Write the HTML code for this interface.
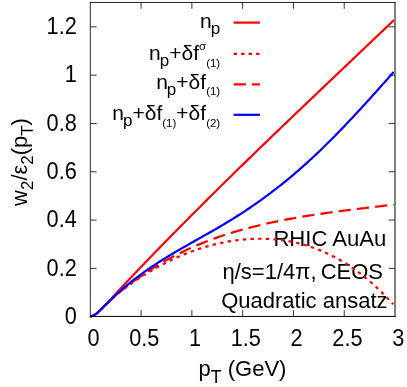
<!DOCTYPE html>
<html><head><meta charset="utf-8"><style>
html,body{margin:0;padding:0;background:#fff;}
svg{display:block;will-change:transform;opacity:0.999;}
text{font-family:"Liberation Sans",sans-serif;fill:#000;}
</style></head><body>
<svg width="407" height="387" viewBox="0 0 407 387">

<path d="M141.08,316.45 v-6.3 M141.08,2.45 v6.3 M191.87,316.45 v-6.3 M191.87,2.45 v6.3 M242.65,316.45 v-6.3 M242.65,2.45 v6.3 M293.43,316.45 v-6.3 M293.43,2.45 v6.3 M344.22,316.45 v-6.3 M344.22,2.45 v6.3 M90.3,268.39 h6.3 M395.0,268.39 h-6.3 M90.3,220.08 h6.3 M395.0,220.08 h-6.3 M90.3,171.78 h6.3 M395.0,171.78 h-6.3 M90.3,123.47 h6.3 M395.0,123.47 h-6.3 M90.3,75.16 h6.3 M395.0,75.16 h-6.3 M90.3,26.85 h6.3 M395.0,26.85 h-6.3" stroke="#333" stroke-width="1" fill="none"/>
<text x="386.4" y="246.4" font-size="22.1" text-anchor="end">RHIC AuAu</text>
<text x="222.5" y="279" font-size="22" text-anchor="start">η/s=1/4π,</text>
<text x="383" y="279" font-size="22" text-anchor="end">CEOS</text>
<text x="387.5" y="308" font-size="22" text-anchor="end">Quadratic ansatz</text>
<g fill="none" stroke-width="2.2" stroke-linejoin="round">
<path d="M90.30,316.45 L91.83,316.07 L93.35,315.48 L94.88,314.62 L96.40,313.52 L97.93,312.29 L99.45,310.91 L100.98,309.42 L102.50,307.86 L104.03,306.26 L105.56,304.66 L107.08,303.09 L108.61,301.50 L110.13,299.87 L111.66,298.22 L113.18,296.55 L114.71,294.89 L116.23,293.23 L117.76,291.59 L119.29,289.95 L120.81,288.31 L122.34,286.66 L123.86,285.03 L125.39,283.39 L126.91,281.77 L128.44,280.15 L129.96,278.54 L131.49,276.94 L133.02,275.34 L134.54,273.73 L136.07,272.13 L137.59,270.54 L139.12,268.94 L140.64,267.35 L142.17,265.75 L143.69,264.16 L145.22,262.58 L146.75,260.99 L148.27,259.41 L149.80,257.83 L151.32,256.25 L152.85,254.67 L154.37,253.09 L155.90,251.52 L157.42,249.95 L158.95,248.38 L160.47,246.81 L162.00,245.25 L163.53,243.68 L165.05,242.12 L166.58,240.56 L168.10,239.00 L169.63,237.44 L171.15,235.89 L172.68,234.34 L174.20,232.79 L175.73,231.24 L177.26,229.69 L178.78,228.14 L180.31,226.60 L181.83,225.06 L183.36,223.52 L184.88,221.98 L186.41,220.44 L187.93,218.91 L189.46,217.37 L190.99,215.84 L192.51,214.31 L194.04,212.78 L195.56,211.25 L197.09,209.72 L198.61,208.20 L200.14,206.68 L201.66,205.16 L203.19,203.64 L204.72,202.12 L206.24,200.60 L207.77,199.08 L209.29,197.57 L210.82,196.06 L212.34,194.55 L213.87,193.04 L215.39,191.53 L216.92,190.02 L218.45,188.51 L219.97,187.01 L221.50,185.51 L223.02,184.00 L224.55,182.50 L226.07,181.00 L227.60,179.50 L229.12,178.01 L230.65,176.51 L232.18,175.02 L233.70,173.52 L235.23,172.03 L236.75,170.54 L238.28,169.05 L239.80,167.56 L241.33,166.07 L242.85,164.59 L244.38,163.10 L245.91,161.62 L247.43,160.13 L248.96,158.65 L250.48,157.17 L252.01,155.69 L253.53,154.21 L255.06,152.73 L256.58,151.25 L258.11,149.77 L259.64,148.30 L261.16,146.82 L262.69,145.35 L264.21,143.87 L265.74,142.40 L267.26,140.93 L268.79,139.46 L270.31,137.99 L271.84,136.52 L273.36,135.05 L274.89,133.58 L276.42,132.12 L277.94,130.65 L279.47,129.19 L280.99,127.72 L282.52,126.26 L284.04,124.79 L285.57,123.33 L287.09,121.87 L288.62,120.41 L290.15,118.94 L291.67,117.48 L293.20,116.02 L294.72,114.57 L296.25,113.11 L297.77,111.65 L299.30,110.19 L300.82,108.73 L302.35,107.28 L303.88,105.82 L305.40,104.36 L306.93,102.91 L308.45,101.45 L309.98,100.00 L311.50,98.54 L313.03,97.09 L314.55,95.64 L316.08,94.18 L317.61,92.73 L319.13,91.28 L320.66,89.83 L322.18,88.37 L323.71,86.92 L325.23,85.47 L326.76,84.02 L328.28,82.57 L329.81,81.12 L331.34,79.67 L332.86,78.21 L334.39,76.76 L335.91,75.31 L337.44,73.86 L338.96,72.41 L340.49,70.96 L342.01,69.51 L343.54,68.06 L345.07,66.61 L346.59,65.16 L348.12,63.71 L349.64,62.26 L351.17,60.81 L352.69,59.36 L354.22,57.91 L355.74,56.46 L357.27,55.01 L358.80,53.56 L360.32,52.11 L361.85,50.66 L363.37,49.21 L364.90,47.76 L366.42,46.31 L367.95,44.86 L369.47,43.41 L371.00,41.95 L372.53,40.50 L374.05,39.05 L375.58,37.60 L377.10,36.14 L378.63,34.69 L380.15,33.24 L381.68,31.78 L383.20,30.33 L384.73,28.88 L386.26,27.42 L387.78,25.97 L389.31,24.51 L390.83,23.05 L392.36,21.60 L393.88,20.14" stroke="#ff0000"/>
<path d="M90.30,316.45 L91.82,316.07 L93.34,315.48 L94.87,314.62 L96.39,313.53 L97.91,312.31 L99.43,310.94 L100.96,309.47 L102.48,307.94 L104.00,306.39 L105.52,304.87 L107.05,303.42 L108.57,301.98 L110.09,300.53 L111.61,299.08 L113.14,297.65 L114.66,296.26 L116.18,294.93 L117.70,293.66 L119.23,292.45 L120.75,291.29 L122.27,290.15 L123.79,289.04 L125.32,287.93 L126.84,286.83 L128.36,285.72 L129.88,284.62 L131.41,283.53 L132.93,282.46 L134.45,281.41 L135.97,280.37 L137.50,279.34 L139.02,278.33 L140.54,277.33 L142.06,276.34 L143.59,275.37 L145.11,274.41 L146.63,273.46 L148.15,272.53 L149.68,271.61 L151.20,270.71 L152.72,269.82 L154.24,268.94 L155.77,268.07 L157.29,267.22 L158.81,266.39 L160.33,265.56 L161.86,264.75 L163.38,263.95 L164.90,263.17 L166.42,262.39 L167.95,261.63 L169.47,260.89 L170.99,260.16 L172.51,259.43 L174.04,258.73 L175.56,258.03 L177.08,257.35 L178.60,256.68 L180.13,256.02 L181.65,255.38 L183.17,254.75 L184.69,254.13 L186.22,253.52 L187.74,252.93 L189.26,252.35 L190.78,251.78 L192.31,251.22 L193.83,250.68 L195.35,250.14 L196.87,249.62 L198.40,249.12 L199.92,248.62 L201.44,248.14 L202.96,247.66 L204.49,247.20 L206.01,246.75 L207.53,246.32 L209.05,245.89 L210.58,245.48 L212.10,245.08 L213.62,244.69 L215.14,244.31 L216.67,243.95 L218.19,243.59 L219.71,243.25 L221.23,242.92 L222.76,242.60 L224.28,242.30 L225.80,242.00 L227.32,241.72 L228.85,241.45 L230.37,241.19 L231.89,240.94 L233.41,240.71 L234.94,240.48 L236.46,240.28 L237.98,240.08 L239.50,239.90 L241.03,239.72 L242.55,239.57 L244.07,239.43 L245.59,239.29 L247.12,239.17 L248.64,239.06 L250.16,238.97 L251.68,238.89 L253.21,238.82 L254.73,238.76 L256.25,238.73 L257.77,238.73 L259.30,238.73 L260.82,238.73 L262.34,238.73 L263.86,238.73 L265.39,238.77 L266.91,238.83 L268.43,238.91 L269.95,239.00 L271.48,239.09 L273.00,239.20 L274.52,239.33 L276.04,239.48 L277.56,239.63 L279.09,239.80 L280.61,239.99 L282.13,240.19 L283.65,240.40 L285.18,240.63 L286.70,240.87 L288.22,241.13 L289.74,241.41 L291.27,241.70 L292.79,242.00 L294.31,242.33 L295.83,242.67 L297.36,243.02 L298.88,243.39 L300.40,243.77 L301.92,244.18 L303.45,244.60 L304.97,245.03 L306.49,245.49 L308.01,245.96 L309.54,246.45 L311.06,246.95 L312.58,247.47 L314.10,248.01 L315.63,248.57 L317.15,249.15 L318.67,249.74 L320.19,250.36 L321.72,250.99 L323.24,251.64 L324.76,252.31 L326.28,253.00 L327.81,253.70 L329.33,254.43 L330.85,255.18 L332.37,255.94 L333.90,256.73 L335.42,257.53 L336.94,258.36 L338.46,259.20 L339.99,260.07 L341.51,260.95 L343.03,261.86 L344.55,262.79 L346.08,263.74 L347.60,264.71 L349.12,265.70 L350.64,266.71 L352.17,267.74 L353.69,268.80 L355.21,269.87 L356.73,270.97 L358.26,272.10 L359.78,273.24 L361.30,274.40 L362.82,275.59 L364.35,276.81 L365.87,278.04 L367.39,279.30 L368.91,280.58 L370.44,281.88 L371.96,283.21 L373.48,284.56 L375.00,285.93 L376.53,287.33 L378.05,288.76 L379.57,290.20 L381.09,291.67 L382.62,293.17 L384.14,294.69 L385.66,296.24 L387.18,297.81 L388.71,299.41 L390.23,301.03 L391.75,302.67 L393.27,304.35" stroke="#ff0000" stroke-dasharray="3.4 4.26" stroke-dashoffset="2.04"/>
<path d="M90.30,316.45 L91.83,316.07 L93.35,315.48 L94.88,314.62 L96.40,313.52 L97.93,312.29 L99.45,310.92 L100.98,309.44 L102.50,307.91 L104.03,306.36 L105.56,304.84 L107.08,303.39 L108.61,301.96 L110.13,300.52 L111.66,299.08 L113.18,297.66 L114.71,296.26 L116.23,294.90 L117.76,293.59 L119.29,292.31 L120.81,291.05 L122.34,289.82 L123.86,288.61 L125.39,287.41 L126.91,286.23 L128.44,285.05 L129.96,283.90 L131.49,282.77 L133.02,281.65 L134.54,280.54 L136.07,279.44 L137.59,278.36 L139.12,277.29 L140.64,276.23 L142.17,275.18 L143.69,274.15 L145.22,273.13 L146.75,272.12 L148.27,271.13 L149.80,270.15 L151.32,269.18 L152.85,268.22 L154.37,267.27 L155.90,266.34 L157.42,265.42 L158.95,264.51 L160.47,263.61 L162.00,262.72 L163.53,261.84 L165.05,260.98 L166.58,260.13 L168.10,259.28 L169.63,258.45 L171.15,257.63 L172.68,256.82 L174.20,256.03 L175.73,255.24 L177.26,254.46 L178.78,253.69 L180.31,252.94 L181.83,252.19 L183.36,251.45 L184.88,250.73 L186.41,250.01 L187.93,249.30 L189.46,248.61 L190.99,247.92 L192.51,247.24 L194.04,246.57 L195.56,245.91 L197.09,245.26 L198.61,244.62 L200.14,243.99 L201.66,243.36 L203.19,242.75 L204.72,242.14 L206.24,241.55 L207.77,240.96 L209.29,240.38 L210.82,239.80 L212.34,239.24 L213.87,238.68 L215.39,238.13 L216.92,237.59 L218.45,237.06 L219.97,236.53 L221.50,236.02 L223.02,235.51 L224.55,235.00 L226.07,234.51 L227.60,234.02 L229.12,233.54 L230.65,233.06 L232.18,232.59 L233.70,232.13 L235.23,231.68 L236.75,231.23 L238.28,230.79 L239.80,230.35 L241.33,229.92 L242.85,229.50 L244.38,229.08 L245.91,228.67 L247.43,228.27 L248.96,227.87 L250.48,227.47 L252.01,227.08 L253.53,226.70 L255.06,226.32 L256.58,225.95 L258.11,225.58 L259.64,225.22 L261.16,224.86 L262.69,224.50 L264.21,224.15 L265.74,223.81 L267.26,223.47 L268.79,223.13 L270.31,222.80 L271.84,222.47 L273.36,222.15 L274.89,221.83 L276.42,221.52 L277.94,221.20 L279.47,220.90 L280.99,220.59 L282.52,220.29 L284.04,220.00 L285.57,219.70 L287.09,219.41 L288.62,219.13 L290.15,218.84 L291.67,218.57 L293.20,218.29 L294.72,218.02 L296.25,217.75 L297.77,217.48 L299.30,217.22 L300.82,216.96 L302.35,216.70 L303.88,216.45 L305.40,216.20 L306.93,215.95 L308.45,215.70 L309.98,215.46 L311.50,215.22 L313.03,214.98 L314.55,214.74 L316.08,214.51 L317.61,214.28 L319.13,214.05 L320.66,213.83 L322.18,213.60 L323.71,213.38 L325.23,213.16 L326.76,212.95 L328.28,212.73 L329.81,212.52 L331.34,212.31 L332.86,212.10 L334.39,211.89 L335.91,211.69 L337.44,211.48 L338.96,211.28 L340.49,211.08 L342.01,210.88 L343.54,210.68 L345.07,210.48 L346.59,210.29 L348.12,210.10 L349.64,209.90 L351.17,209.71 L352.69,209.52 L354.22,209.33 L355.74,209.15 L357.27,208.96 L358.80,208.77 L360.32,208.59 L361.85,208.40 L363.37,208.22 L364.90,208.04 L366.42,207.85 L367.95,207.67 L369.47,207.49 L371.00,207.31 L372.53,207.13 L374.05,206.95 L375.58,206.77 L377.10,206.59 L378.63,206.41 L380.15,206.23 L381.68,206.05 L383.20,205.87 L384.73,205.70 L386.26,205.52 L387.78,205.34 L389.31,205.16 L390.83,204.98 L392.36,204.80 L393.88,204.62" stroke="#ff0000" stroke-dasharray="12.2 6.150000000000002" stroke-dashoffset="18.27"/>
<path d="M90.30,316.45 L91.82,316.07 L93.35,315.48 L94.87,314.62 L96.40,313.52 L97.92,312.30 L99.44,310.94 L100.97,309.47 L102.49,307.94 L104.02,306.39 L105.54,304.87 L107.06,303.40 L108.59,301.95 L110.11,300.49 L111.64,299.03 L113.16,297.58 L114.68,296.14 L116.21,294.72 L117.73,293.33 L119.26,291.95 L120.78,290.58 L122.30,289.23 L123.83,287.89 L125.35,286.58 L126.88,285.30 L128.40,284.04 L129.92,282.82 L131.45,281.61 L132.97,280.42 L134.50,279.24 L136.02,278.08 L137.54,276.93 L139.07,275.80 L140.59,274.67 L142.12,273.57 L143.64,272.47 L145.16,271.39 L146.69,270.32 L148.21,269.26 L149.74,268.22 L151.26,267.18 L152.78,266.16 L154.31,265.15 L155.83,264.15 L157.36,263.15 L158.88,262.17 L160.40,261.20 L161.93,260.23 L163.45,259.28 L164.98,258.33 L166.50,257.39 L168.02,256.46 L169.55,255.53 L171.07,254.62 L172.60,253.71 L174.12,252.80 L175.64,251.90 L177.17,251.00 L178.69,250.12 L180.22,249.23 L181.74,248.35 L183.26,247.47 L184.79,246.60 L186.31,245.73 L187.84,244.86 L189.36,244.00 L190.88,243.13 L192.41,242.27 L193.93,241.42 L195.46,240.56 L196.98,239.70 L198.50,238.84 L200.03,237.99 L201.55,237.13 L203.08,236.27 L204.60,235.41 L206.12,234.55 L207.65,233.69 L209.17,232.82 L210.70,231.95 L212.22,231.08 L213.74,230.21 L215.27,229.33 L216.79,228.45 L218.32,227.57 L219.84,226.68 L221.36,225.78 L222.89,224.88 L224.41,223.98 L225.94,223.07 L227.46,222.15 L228.98,221.22 L230.51,220.29 L232.03,219.35 L233.56,218.40 L235.08,217.45 L236.60,216.49 L238.13,215.52 L239.65,214.54 L241.18,213.56 L242.70,212.56 L244.23,211.56 L245.75,210.55 L247.27,209.54 L248.80,208.51 L250.32,207.48 L251.85,206.44 L253.37,205.39 L254.89,204.33 L256.42,203.27 L257.94,202.19 L259.47,201.11 L260.99,200.02 L262.51,198.92 L264.04,197.81 L265.56,196.70 L267.09,195.57 L268.61,194.44 L270.13,193.29 L271.66,192.14 L273.18,190.98 L274.71,189.81 L276.23,188.63 L277.75,187.44 L279.28,186.25 L280.80,185.04 L282.33,183.82 L283.85,182.60 L285.37,181.36 L286.90,180.12 L288.42,178.87 L289.95,177.60 L291.47,176.33 L292.99,175.05 L294.52,173.75 L296.04,172.45 L297.57,171.14 L299.09,169.82 L300.61,168.49 L302.14,167.14 L303.66,165.79 L305.19,164.43 L306.71,163.06 L308.23,161.67 L309.76,160.28 L311.28,158.88 L312.81,157.47 L314.33,156.04 L315.85,154.61 L317.38,153.16 L318.90,151.71 L320.43,150.25 L321.95,148.78 L323.47,147.29 L325.00,145.80 L326.52,144.31 L328.05,142.80 L329.57,141.28 L331.09,139.76 L332.62,138.22 L334.14,136.68 L335.67,135.14 L337.19,133.58 L338.71,132.02 L340.24,130.45 L341.76,128.87 L343.29,127.28 L344.81,125.69 L346.33,124.09 L347.86,122.49 L349.38,120.87 L350.91,119.25 L352.43,117.63 L353.95,116.00 L355.48,114.37 L357.00,112.72 L358.53,111.08 L360.05,109.43 L361.57,107.77 L363.10,106.11 L364.62,104.44 L366.15,102.77 L367.67,101.09 L369.19,99.41 L370.72,97.73 L372.24,96.04 L373.77,94.35 L375.29,92.65 L376.81,90.95 L378.34,89.25 L379.86,87.55 L381.39,85.84 L382.91,84.13 L384.43,82.41 L385.96,80.69 L387.48,78.98 L389.01,77.26 L390.53,75.53 L392.05,73.81 L393.58,72.08" stroke="#0000ff"/>
<path d="M233.6,22.6 H259.9" stroke="#ff0000"/>
<path d="M233.6,53.8 H259.9" stroke="#ff0000" stroke-dasharray="3.4 4.1"/>
<path d="M233.7,84.45 H259.9" stroke="#ff0000" stroke-dasharray="12.2 6"/>
<path d="M233.6,114.8 H259.9" stroke="#0000ff"/>
</g>
<path d="M90.32,1.9500000000000002 V316.95" stroke="#222" stroke-width="0.95" fill="none"/>
<path d="M395.0,1.9500000000000002 V316.95" stroke="#111" stroke-width="1.05" fill="none"/>
<path d="M89.89999999999999,2.45 H395.6" stroke="#222" stroke-width="1" fill="none"/>
<path d="M89.89999999999999,316.45 H395.6" stroke="#000" stroke-width="1" fill="none"/>
<text transform="translate(76.8,323.95) scale(1,1.07)" font-size="21.7" text-anchor="end">0</text>
<text transform="translate(76.8,275.64) scale(1,1.07)" font-size="21.7" text-anchor="end">0.2</text>
<text transform="translate(76.8,227.33) scale(1,1.07)" font-size="21.7" text-anchor="end">0.4</text>
<text transform="translate(76.8,179.03) scale(1,1.07)" font-size="21.7" text-anchor="end">0.6</text>
<text transform="translate(76.8,130.72) scale(1,1.07)" font-size="21.7" text-anchor="end">0.8</text>
<text transform="translate(76.8,82.41) scale(1,1.07)" font-size="21.7" text-anchor="end">1</text>
<text transform="translate(76.8,34.10) scale(1,1.07)" font-size="21.7" text-anchor="end">1.2</text>
<text transform="translate(93.50,345.6) scale(1,1.07)" font-size="21.7" text-anchor="middle">0</text>
<text transform="translate(144.28,345.6) scale(1,1.07)" font-size="21.7" text-anchor="middle">0.5</text>
<text transform="translate(195.07,345.6) scale(1,1.07)" font-size="21.7" text-anchor="middle">1</text>
<text transform="translate(245.85,345.6) scale(1,1.07)" font-size="21.7" text-anchor="middle">1.5</text>
<text transform="translate(296.63,345.6) scale(1,1.07)" font-size="21.7" text-anchor="middle">2</text>
<text transform="translate(347.42,345.6) scale(1,1.07)" font-size="21.7" text-anchor="middle">2.5</text>
<text transform="translate(398.20,345.6) scale(1,1.07)" font-size="21.7" text-anchor="middle">3</text>
<text x="242.5" y="376" font-size="22" text-anchor="middle">p<tspan font-size="17.6" dy="6.6">T</tspan><tspan dy="-6.6"> (GeV)</tspan></text>
<text transform="translate(26.8,162) rotate(-90)" font-size="21.9" text-anchor="middle">w<tspan font-size="17" dy="6">2</tspan><tspan dy="-6">/ε</tspan><tspan font-size="17" dy="6">2</tspan><tspan dy="-6">(p</tspan><tspan font-size="17" dy="6">T</tspan><tspan dy="-6">)</tspan></text>
<text x="220.2" y="27.5" font-size="21" text-anchor="end">n<tspan font-size="17" dy="6" dx="-1">p</tspan></text>
<text x="220.2" y="60" font-size="21" text-anchor="end">n<tspan font-size="17" dy="6" dx="-1">p</tspan><tspan dy="-6">+δf</tspan><tspan font-size="11.5" dy="-10">σ</tspan><tspan font-size="11.5" dy="16.5">(1)</tspan></text>
<text x="220.2" y="88.5" font-size="21" text-anchor="end">n<tspan font-size="17" dy="6" dx="-1">p</tspan><tspan dy="-6">+δf</tspan><tspan font-size="11.5" dy="6.5">(1)</tspan></text>
<text x="220.2" y="120.2" font-size="21" text-anchor="end">n<tspan font-size="17" dy="6" dx="-1">p</tspan><tspan dy="-6">+δf</tspan><tspan font-size="11.5" dy="6.5">(1)</tspan><tspan dy="-6.5">+δf</tspan><tspan font-size="11.5" dy="6.5">(2)</tspan></text>
</svg></body></html>
